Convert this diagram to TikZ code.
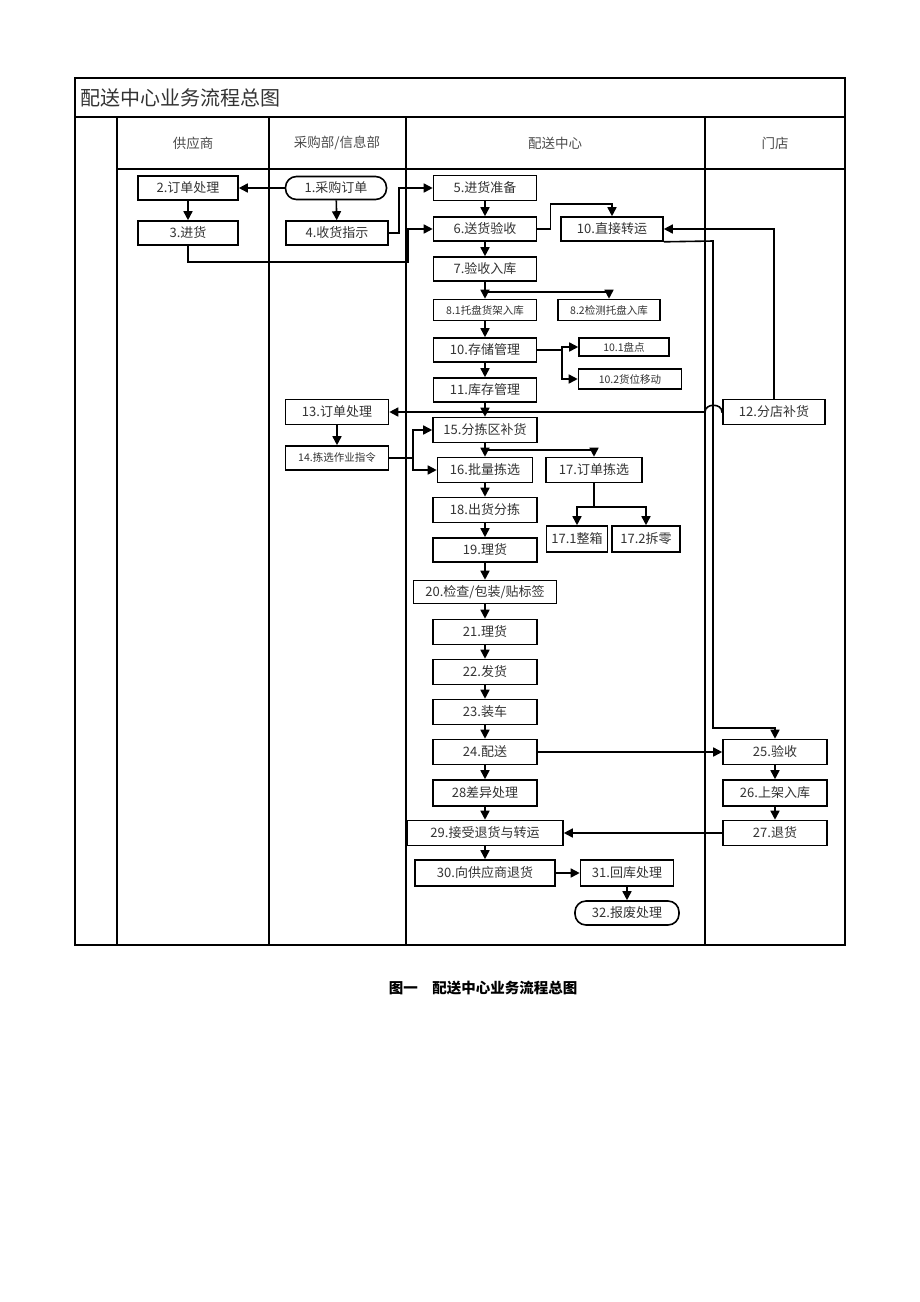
\documentclass[tikz,border=0pt]{standalone}
\usepackage{fontspec}
\setmainfont{Noto Sans CJK SC}
\usetikzlibrary{arrows.meta,calc}
\begin{document}
\begin{tikzpicture}[x=1pt,y=-1pt,
 box/.style={draw,line width=1.6pt,inner sep=0pt,font=\fontsize{13}{13}\selectfont,text=black!80},
 sbox/.style={box,font=\fontsize{10.5}{10.5}\selectfont},
 rbox/.style={box,rounded corners=11pt},
 arr/.style={line width=1.6pt,-{Triangle[length=9pt,width=9pt]}},
 ln/.style={line width=1.6pt},
 lane/.style={line width=1.7pt},
 hdr/.style={font=\fontsize{13.5}{13.5}\selectfont,text=black!70}]
\useasboundingbox (0,0) rectangle (920,1302);
\fill[white] (0,0) rectangle (920,1302);
% frame
\draw[line width=1.2pt] (75,78) rectangle (845,945);
\draw[line width=2.8pt] (74,945) -- (846,945);
\draw[line width=2.2pt] (845,78) -- (845,945);
\draw[line width=1.8pt] (75,117) -- (845,117);
\draw[line width=1.4pt] (117,169) -- (845,169);
\foreach \x in {117,269,406,705} \draw[lane] (\x,117) -- (\x,945);
\node[anchor=west,font=\fontsize{20}{20}\selectfont,text=black!80] (title) at (77,98) {配送中心业务流程总图};
\node[hdr] (h1) at (193,143) {供应商};
\node[hdr] (h2) at (337,143) {采购部/信息部};
\node[hdr] (h3) at (555,143) {配送中心};
\node[hdr] (h4) at (775,143) {门店};
% nodes
\node[rbox,minimum width=101pt,minimum height=23pt] (n1) at (336,188) {1.采购订单};
\node[box,minimum width=100pt,minimum height=24pt] (n2) at (188,188) {2.订单处理};
\node[box,minimum width=100pt,minimum height=24pt] (n3) at (188,233) {3.进货};
\node[box,minimum width=102pt,minimum height=24pt] (n4) at (337,233) {4.收货指示};
\node[box,minimum width=103pt,minimum height=25pt] (n5) at (485,188) {5.进货准备};
\node[box,minimum width=103pt,minimum height=24pt] (n6) at (485,229) {6.送货验收};
\node[box,minimum width=102pt,minimum height=24pt] (n10) at (612,229) {10.直接转运};
\node[box,minimum width=103pt,minimum height=24pt] (n7) at (485,269) {7.验收入库};
\node[sbox,minimum width=103pt,minimum height=21pt] (n81) at (485,310) {8.1托盘货架入库};
\node[sbox,minimum width=102pt,minimum height=21pt] (n82) at (609,310) {8.2检测托盘入库};
\node[box,minimum width=103pt,minimum height=24pt] (n10s) at (485,350) {10.存储管理};
\node[sbox,minimum width=90pt,minimum height=18pt] (n101) at (624,347) {10.1盘点};
\node[sbox,minimum width=103pt,minimum height=20pt] (n102) at (630,379) {10.2货位移动};
\node[box,minimum width=103pt,minimum height=24pt] (n11) at (485,390) {11.库存管理};
\node[box,minimum width=103pt,minimum height=25pt] (n13) at (337,412) {13.订单处理};
\node[box,minimum width=102pt,minimum height=25pt] (n12) at (774,412) {12.分店补货};
\node[sbox,minimum width=103pt,minimum height=24pt] (n14) at (337,458) {14.拣选作业指令};
\node[box,minimum width=104pt,minimum height=25pt] (n15) at (485,430) {15.分拣区补货};
\node[box,minimum width=95pt,minimum height=25pt] (n16) at (485,470) {16.批量拣选};
\node[box,minimum width=96pt,minimum height=25pt] (n17) at (594,470) {17.订单拣选};
\node[box,minimum width=104pt,minimum height=25pt] (n18) at (485,510) {18.出货分拣};
\node[box,minimum width=61pt,minimum height=26pt] (n171) at (577,539) {17.1整箱};
\node[box,minimum width=68pt,minimum height=26pt] (n172) at (646,539) {17.2拆零};
\node[box,minimum width=104pt,minimum height=24pt] (n19) at (485,550) {19.理货};
\node[box,minimum width=143pt,minimum height=23pt] (n20) at (485,592) {20.检查/包装/贴标签};
\node[box,minimum width=104pt,minimum height=25pt] (n21) at (485,632) {21.理货};
\node[box,minimum width=104pt,minimum height=25pt] (n22) at (485,672) {22.发货};
\node[box,minimum width=104pt,minimum height=25pt] (n23) at (485,712) {23.装车};
\node[box,minimum width=104pt,minimum height=25pt] (n24) at (485,752) {24.配送};
\node[box,minimum width=104pt,minimum height=25pt] (n25) at (775,752) {25.验收};
\node[box,minimum width=104pt,minimum height=26pt] (n28) at (485,793) {28差异处理};
\node[box,minimum width=104pt,minimum height=26pt] (n26) at (775,793) {26.上架入库};
\node[box,minimum width=156pt,minimum height=25pt] (n29) at (485,833) {29.接受退货与转运};
\node[box,minimum width=104pt,minimum height=25pt] (n27) at (775,833) {27.退货};
\node[box,minimum width=140pt,minimum height=26pt] (n30) at (485,873) {30.向供应商退货};
\node[box,minimum width=93pt,minimum height=26pt] (n31) at (627,873) {31.回库处理};
\node[rbox,minimum width=104pt,minimum height=24pt] (n32) at (627,913) {32.报废处理};
% connectors
\draw[arr] (n1.west) -- (n2.east);
\draw[arr] (n2) -- (n3);
\draw[arr] (n1) -- (n4);
\draw[arr] (n4.east) -- ++(10,0) |- (n5.west);
\draw[arr] (n3.south) |- (408,262) |- (n6.west);
\draw[arr] (n5) -- (n6);
\draw[arr] (n6) -- (n7);
\draw[arr] (n6.east) -- ++(13,0) -- ++(0,-25) -| (n10.north);
\draw[arr] (n12.north) |- (n10.east);
\draw[arr] (n10.south east) -- (713,241) -- (713,728) -| (n25.north);
\draw[arr] (n7) -- (n81);
\draw[arr] (485,292) -| (n82.north);
\draw[arr] (n81) -- (n10s);
\draw[arr] (n10s) -- (n11);
\draw[arr] (n10s.east) -- (562,350) |- (n101.west);
\draw[arr] (562,350) |- (n102.west);
\draw[arr] (n11) -- (n15);
\draw[arr] (n12.west) -- (722,412) .. controls (722,403) and (705,403) .. (705,412) -- (n13.east);
\draw[arr] (n13) -- (n14);
\draw[arr] (n14.east) -- (413,458) |- (n15.west);
\draw[arr] (413,458) |- (n16.west);
\draw[arr] (n15) -- (n16);
\draw[arr] (485,450) -| (n17.north);
\draw[arr] (n16) -- (n18);
\draw[ln] (n17.south) -- (594,507);
\draw[arr] (594,507) -| (n171.north);
\draw[arr] (594,507) -| (n172.north);
\draw[arr] (n18) -- (n19);
\draw[arr] (n19) -- (n20);
\draw[arr] (n20) -- (n21);
\draw[arr] (n21) -- (n22);
\draw[arr] (n22) -- (n23);
\draw[arr] (n23) -- (n24);
\draw[arr] (n24) -- (n25);
\draw[arr] (n24) -- (n28);
\draw[arr] (n28) -- (n29);
\draw[arr] (n29) -- (n30);
\draw[arr] (n25) -- (n26);
\draw[arr] (n26) -- (n27);
\draw[arr] (n27) -- (n29);
\draw[arr] (n30) -- (n31);
\draw[arr] (n31) -- (n32);
% caption
\node[font=\fontsize{14.5}{14.5}\selectfont\bfseries] (cap) at (483,988) {图一\quad 配送中心业务流程总图};
\end{tikzpicture}
\end{document}
